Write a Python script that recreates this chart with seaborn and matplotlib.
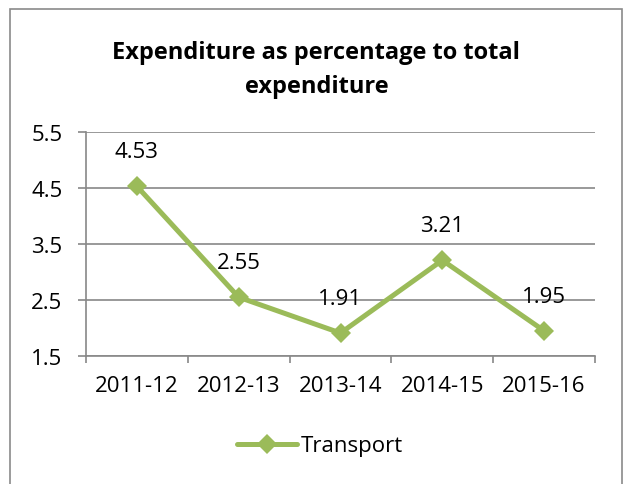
import pandas as pd
import matplotlib.pyplot as plt
import matplotlib.patches as mpatches
import seaborn as sns

# data
years = ['2011-12', '2012-13', '2013-14', '2014-15', '2015-16']
transport = [4.53, 2.55, 1.91, 3.21, 1.95]
y_ticks = [1.5, 2.5, 3.5, 4.5, 5.5]

df = pd.DataFrame({'year': years, 'pct': transport})

sns.set_theme(style='white')
plt.rcParams['font.family'] = ['Open Sans', 'DejaVu Sans']
plt.rcParams['text.color'] = 'black'
plt.rcParams['xtick.color'] = 'black'
plt.rcParams['ytick.color'] = 'black'

green = '#9BBB59'
grid_col = '#888888'
fs = 16

fig = plt.figure(figsize=(6.24, 4.85), dpi=100)
ax = fig.add_axes([86 / 624, 1 - 357 / 485, (595 - 86) / 624, (357 - 133) / 485])

sns.lineplot(data=df, x='year', y='pct', ax=ax, sort=False, color=green,
             linewidth=3.6, marker='D', markersize=10, markeredgewidth=0,
             label='Transport', legend=False)

# value labels above each point
for i, v in enumerate(transport):
    ax.annotate(f'{v:.2f}', (i, v), xytext=(0, 25), textcoords='offset points',
                ha='center', va='center', fontsize=fs, color='black')

ax.set_xlim(-0.5, len(years) - 0.5)
ax.set_ylim(1.5, 5.5)
ax.set_yticks(y_ticks)
ax.set_yticklabels([f'{t}' for t in y_ticks])
ax.set_xticks(range(len(years)))
ax.set_xticklabels(years)
ax.set_xticks([i - 0.5 for i in range(len(years) + 1)], minor=True)
ax.set_xlabel('')
ax.set_ylabel('')

ax.yaxis.grid(True, color=grid_col, linewidth=1.2)
ax.xaxis.grid(False)
ax.set_axisbelow(True)
for s in ['top', 'right']:
    ax.spines[s].set_visible(False)
for s in ['left', 'bottom']:
    ax.spines[s].set_color(grid_col)
    ax.spines[s].set_linewidth(1.2)

ax.tick_params(axis='y', which='major', length=6, width=1.2, color=grid_col,
               direction='out', left=True, pad=11, labelsize=fs)
ax.tick_params(axis='x', which='major', length=0, pad=14, labelsize=fs)
ax.tick_params(axis='x', which='minor', length=5, width=1.2, color=grid_col,
               direction='out', bottom=True)

fig.text(0.507, 1 - 70 / 485, 'Expenditure as percentage to total\nexpenditure',
         ha='center', va='center', fontsize=17, fontweight='bold',
         linespacing=1.55)

handle = plt.Line2D([], [], color=green, linewidth=3.6, marker='D',
                    markersize=10, markeredgewidth=0)
fig.legend([handle], ['Transport'], loc='center', bbox_to_anchor=(0.513, 1 - 447 / 485),
           frameon=False, fontsize=fs, handlelength=2.7, handletextpad=0.15)

# chart area border
fig.patches.append(mpatches.Rectangle((10 / 624, -0.01), 612 / 624, 1 - 10 / 485 + 0.01,
                                      transform=fig.transFigure, fill=False,
                                      edgecolor='#8a8a8a', linewidth=1.2))

fig.savefig('out.png', dpi=100)
